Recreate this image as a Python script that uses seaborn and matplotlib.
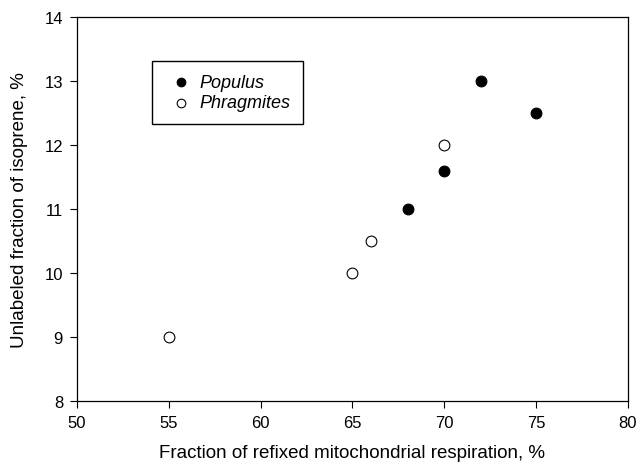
import pandas as pd
import matplotlib
matplotlib.use('Agg')
import matplotlib.pyplot as plt
import seaborn as sns

#Values
populus_x = [68, 70, 72, 75]
populus_y = [11.0, 11.6, 13.0, 12.5]
phrag_x = [55, 65, 66, 70]
phrag_y = [9.0, 10.0, 10.5, 12.0]

x_ticks = [50, 55, 60, 65, 70, 75, 80]
y_ticks = [8, 9, 10, 11, 12, 13, 14]

df = pd.DataFrame({
    'x': populus_x + phrag_x,
    'y': populus_y + phrag_y,
    'species': ['Populus'] * len(populus_x) + ['Phragmites'] * len(phrag_x),
})

sns.set_style('ticks')
plt.rcParams['font.family'] = ['Liberation Sans', 'DejaVu Sans']
plt.rcParams['text.color'] = 'black'
plt.rcParams['axes.labelcolor'] = 'black'

fig = plt.figure(figsize=(6.38, 4.64), dpi=100)
ax = fig.add_axes([0.1207, 0.1336, 0.8636, 0.8276])

sns.scatterplot(data=df[df.species == 'Populus'], x='x', y='y', color='black',
                edgecolor='black', s=60, linewidth=0.8, label='Populus', ax=ax, zorder=3)
sns.scatterplot(data=df[df.species == 'Phragmites'], x='x', y='y', color='white',
                edgecolor='black', s=60, linewidth=0.8, label='Phragmites', ax=ax, zorder=3)

ax.set_xlim(50, 80)
ax.set_ylim(8, 14)
ax.set_xticks(x_ticks)
ax.set_yticks(y_ticks)
ax.tick_params(direction='out', length=5, width=0.8, labelsize=12, colors='black', pad=5)
for sp in ax.spines.values():
    sp.set_color('black')
    sp.set_linewidth(0.9)

ax.set_xlabel('Fraction of refixed mitochondrial respiration, %', fontsize=13.5, labelpad=10)
ax.set_ylabel('Unlabeled fraction of isoprene, %', fontsize=13.5, labelpad=12)

leg = ax.legend(loc='upper left', bbox_to_anchor=(0.137, 0.885), borderaxespad=0,
                frameon=True, fancybox=False, edgecolor='black', framealpha=1,
                markerscale=0.8, handletextpad=0.1, borderpad=0.7, labelspacing=0.2,
                handlelength=1.8, prop={'style': 'italic', 'size': 13})
leg.get_frame().set_linewidth(1.0)

plt.savefig('out.png', dpi=100)
